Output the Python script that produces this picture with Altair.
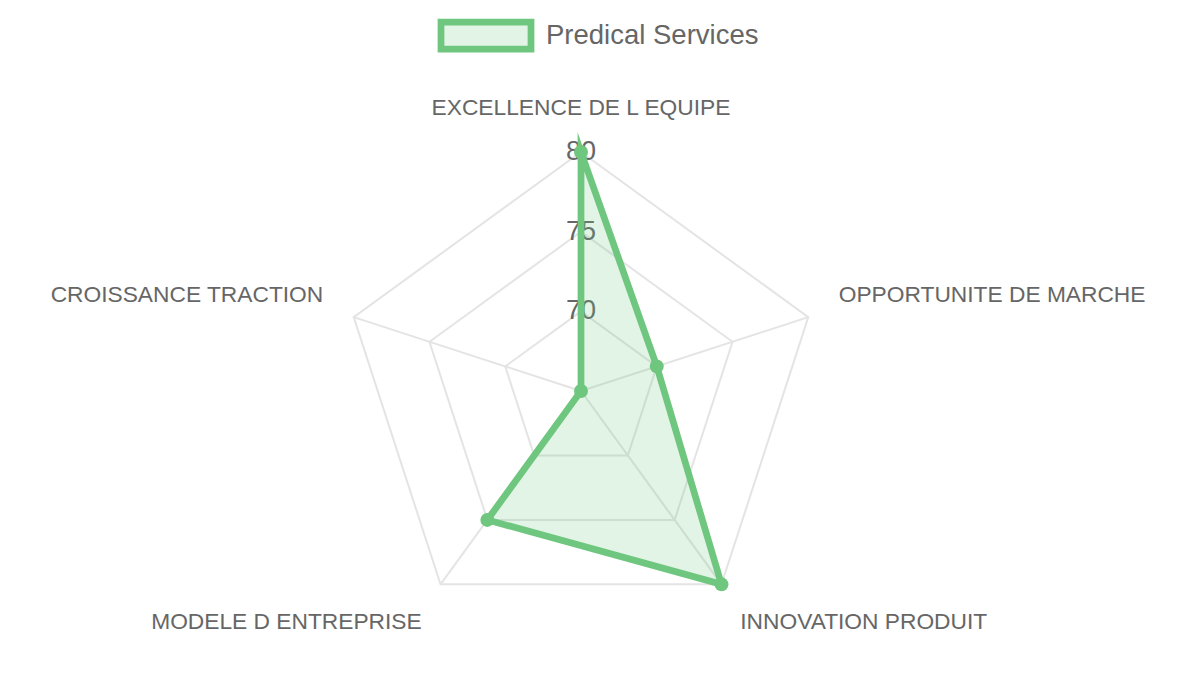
import altair as alt
import pandas as pd

# ---------------- data ----------------
series_name = "Predical Services"
categories = [
    "EXCELLENCE DE L EQUIPE",
    "OPPORTUNITE DE MARCHE",
    "INNOVATION PRODUIT",
    "MODELE D ENTREPRISE",
    "CROISSANCE TRACTION",
]
values = [80, 70, 80, 75, 65]
tick_values = [70, 75, 80]
scale_min = 65
scale_max = 80

# ---------------- layout / style ----------------
W, H = 1200, 675
CX, CY = 581, 391          # centre of the radar in pixels
R = 239                    # radius of outer ring in pixels
LABEL_R = 271              # radius at which point labels are anchored
LABEL_SHIFT = 12
GREEN = "#6fc77f"
GRID = "#e4e4e4"
TEXT = "#666666"
FONT = "Liberation Sans"

n = len(categories)
data_df = pd.DataFrame({"category": categories, "value": values, "idx": list(range(n))})
grid_df = pd.DataFrame([{"tick": t, "idx": i} for t in tick_values for i in range(n)])
spoke_df = pd.DataFrame({"category": categories, "idx": list(range(n))})
tick_df = pd.DataFrame({"tick": tick_values})
legend_df = pd.DataFrame({"series": [series_name]})

xs = alt.Scale(domain=[-CX, W - CX], nice=False, zero=False)
ys = alt.Scale(domain=[-(H - CY), CY], nice=False, zero=False)

ANG = f"datum.idx * 2 * PI / {n}"


def rad(field):
    return f"({field} - {scale_min}) / ({scale_max} - {scale_min}) * {R}"


def X(f):
    return alt.X(f"{f}:Q", scale=xs, axis=None)


def Y(f):
    return alt.Y(f"{f}:Q", scale=ys, axis=None)


# grid rings
rings = alt.Chart(grid_df).transform_calculate(
    a=ANG, r=rad("datum.tick")
).transform_calculate(
    gx="datum.r * sin(datum.a)", gy="datum.r * cos(datum.a)"
).mark_line(interpolate="linear-closed", stroke=GRID, strokeWidth=2).encode(
    x=X("gx"), y=Y("gy"), detail="tick:N", order="idx:Q"
)

# spokes
spokes = alt.Chart(spoke_df).transform_calculate(
    a=ANG, z="0"
).transform_calculate(
    sx=f"{R} * sin(datum.a)", sy=f"{R} * cos(datum.a)"
).mark_rule(stroke=GRID, strokeWidth=2).encode(
    x=X("z"), y=Y("z"), x2="sx:Q", y2="sy:Q"
)

# point labels
lab_base = alt.Chart(spoke_df).transform_calculate(
    a=ANG
).transform_calculate(
    lx=f"{LABEL_R} * sin(datum.a)",
    ly=f"{LABEL_R} * cos(datum.a) + (cos(datum.a) > 0.01 ? {LABEL_SHIFT} : (cos(datum.a) < -0.01 ? -{LABEL_SHIFT} : 0))",
    s="sin(datum.a)",
)
lab_kw = dict(font=FONT, fontSize=22.75, color=TEXT, baseline="middle")
lab_center = lab_base.transform_filter("abs(datum.s) < 0.01").mark_text(align="center", **lab_kw).encode(
    x=X("lx"), y=Y("ly"), text="category:N")
lab_left = lab_base.transform_filter("datum.s >= 0.01").mark_text(align="left", **lab_kw).encode(
    x=X("lx"), y=Y("ly"), text="category:N")
lab_right = lab_base.transform_filter("datum.s <= -0.01").mark_text(align="right", **lab_kw).encode(
    x=X("lx"), y=Y("ly"), text="category:N")

# tick labels
ticks = alt.Chart(tick_df).transform_calculate(
    z="0", ty=rad("datum.tick")
).mark_text(font=FONT, fontSize=27, color=TEXT, baseline="middle", align="center").encode(
    x=X("z"), y=Y("ty"), text="tick:Q"
)

# data polygon
pts = alt.Chart(data_df).transform_calculate(
    a=ANG, r=rad("datum.value")
).transform_calculate(
    px="datum.r * sin(datum.a)", py="datum.r * cos(datum.a)"
)
poly = pts.mark_line(
    interpolate="linear-closed", stroke=GREEN, strokeWidth=6.75,
    fill=GREEN, fillOpacity=0.2, strokeJoin="miter", strokeMiterLimit=10,
).encode(x=X("px"), y=Y("py"), order="idx:Q")
dots = pts.mark_circle(size=195, color=GREEN, opacity=1).encode(x=X("px"), y=Y("py"))

# legend
leg_box = alt.Chart(legend_df).mark_rect(
    fill=GREEN, fillOpacity=0.2, stroke=GREEN, strokeWidth=6.75
).encode(x=alt.value(441), x2=alt.value(531), y=alt.value(22), y2=alt.value(49))
leg_text = alt.Chart(legend_df).mark_text(
    font=FONT, fontSize=27.5, color=TEXT, align="left", baseline="middle"
).encode(x=alt.value(546), y=alt.value(36), text="series:N")

chart = alt.layer(
    rings, spokes, lab_center, lab_left, lab_right, ticks, poly, dots, leg_box, leg_text
).properties(
    width=W, height=H, padding=0, autosize=alt.AutoSizeParams(type="none"), background="white"
).configure_view(stroke=None)

chart.save("out.html", embed_options={"renderer": "svg", "actions": False})
